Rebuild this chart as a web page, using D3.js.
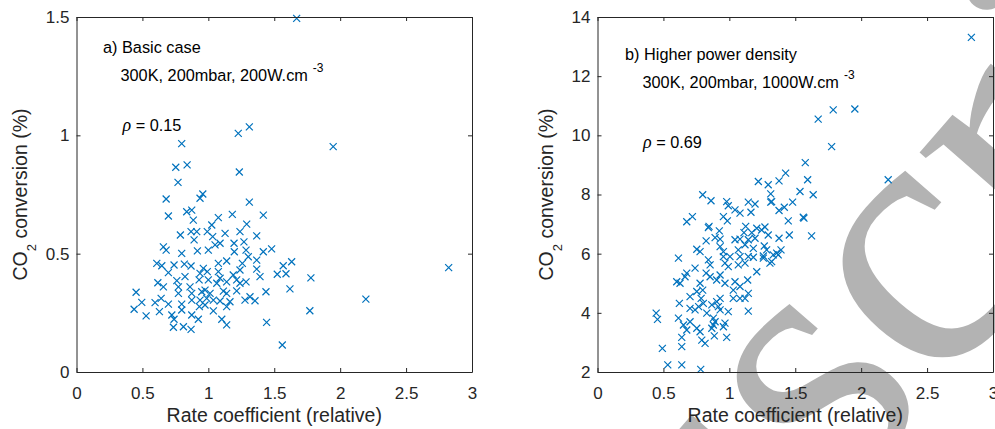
<!DOCTYPE html>
<html>
<head>
<meta charset="utf-8">
<script src="https://cdn.jsdelivr.net/npm/d3@7/dist/d3.min.js"></script>
<style>
  body { margin: 0; background: #fff; }
  svg { display: block; font-family: "Liberation Sans", Arial, Helvetica, sans-serif; }
</style>
</head>
<body>
<svg id="chart" width="995" height="429"></svg>
<script>
// panel a) basic case, 200 W/cm3
const rateA = [1.670, 1.227, 1.311, 0.798, 0.753, 0.839, 1.235, 0.770, 0.680, 0.958,
  0.937, 1.311, 0.697, 0.874, 0.836, 0.886, 1.076, 1.182, 1.417, 1.291,
  1.947, 0.788, 0.869, 0.912, 0.992, 1.033, 1.127, 1.240, 1.367, 0.892,
  1.089, 1.051, 1.195, 1.270, 0.659, 0.680, 0.798, 0.917, 1.000, 1.197,
  1.286, 1.303, 1.417, 1.480, 1.367, 1.139, 1.076, 0.609, 0.647, 0.740,
  0.818, 0.869, 0.697, 0.962, 0.992, 0.937, 1.076, 1.240, 1.258, 1.367,
  1.568, 1.632, 1.523, 1.589, 1.392, 1.778, 1.189, 0.823, 1.089, 0.930,
  0.617, 0.659, 0.761, 0.773, 0.861, 1.000, 1.064, 1.139, 1.215, 1.240,
  1.286, 0.975, 0.950, 1.013, 1.114, 1.139, 0.874, 0.773, 1.215, 1.437,
  1.619, 0.452, 0.642, 0.495, 0.596, 0.697, 0.798, 0.874, 0.937, 0.988,
  1.038, 1.089, 1.164, 1.278, 1.316, 1.354, 0.437, 0.629, 0.723, 0.798,
  0.932, 0.975, 1.038, 1.139, 0.528, 0.740, 0.874, 0.924, 1.102, 1.770,
  0.735, 0.811, 0.869, 1.139, 1.442, 1.561, 2.823, 2.195, 1.026];
const convA = [1.494, 1.008, 1.036, 0.965, 0.865, 0.875, 0.845, 0.801, 0.731, 0.752,
  0.734, 0.718, 0.659, 0.684, 0.677, 0.642, 0.652, 0.666, 0.663, 0.625,
  0.952, 0.579, 0.593, 0.593, 0.593, 0.572, 0.586, 0.593, 0.575, 0.558,
  0.544, 0.537, 0.544, 0.550, 0.529, 0.515, 0.501, 0.512, 0.515, 0.508,
  0.515, 0.487, 0.508, 0.520, 0.473, 0.469, 0.459, 0.459, 0.449, 0.452,
  0.456, 0.448, 0.420, 0.438, 0.424, 0.417, 0.424, 0.431, 0.459, 0.435,
  0.449, 0.466, 0.413, 0.415, 0.403, 0.398, 0.410, 0.403, 0.396, 0.389,
  0.377, 0.360, 0.386, 0.360, 0.360, 0.389, 0.375, 0.381, 0.389, 0.375,
  0.381, 0.346, 0.339, 0.332, 0.342, 0.332, 0.332, 0.332, 0.343, 0.339,
  0.351, 0.337, 0.311, 0.294, 0.293, 0.287, 0.287, 0.304, 0.304, 0.311,
  0.304, 0.300, 0.297, 0.304, 0.318, 0.301, 0.265, 0.255, 0.241, 0.262,
  0.276, 0.283, 0.258, 0.276, 0.237, 0.223, 0.241, 0.223, 0.223, 0.259,
  0.189, 0.191, 0.180, 0.199, 0.210, 0.114, 0.441, 0.308, 0.621];

// panel b) higher power density, 1000 W/cm3
const rateB = [2.836, 1.788, 1.952, 1.674, 1.776, 2.205, 1.576, 1.427, 1.377, 1.220,
  1.295, 1.594, 1.314, 1.536, 1.636, 1.144, 1.195, 1.314, 1.480, 1.417,
  1.377, 1.164, 1.561, 0.798, 0.861, 0.980, 0.992, 1.043, 1.081, 0.720,
  0.955, 1.447, 1.566, 1.624, 1.455, 1.377, 0.677, 0.985, 0.841, 0.924,
  0.824, 0.892, 0.930, 1.043, 1.081, 1.124, 1.111, 1.170, 1.208, 1.245,
  1.270, 1.295, 1.144, 1.195, 0.753, 0.930, 0.955, 1.068, 1.119, 1.182,
  1.265, 1.283, 1.392, 0.614, 1.005, 1.081, 1.182, 1.258, 1.333, 0.778,
  0.841, 0.854, 0.967, 0.992, 1.068, 1.119, 1.208, 1.308, 1.371, 0.740,
  0.677, 0.664, 0.601, 0.626, 0.824, 0.854, 0.778, 0.798, 0.904, 0.930,
  0.967, 1.043, 1.030, 1.081, 1.139, 1.030, 1.081, 1.119, 1.144, 0.702,
  0.621, 0.753, 0.786, 0.803, 0.867, 0.904, 0.930, 0.702, 0.740, 0.767,
  0.917, 0.930, 0.992, 1.144, 0.445, 0.455, 0.614, 0.829, 0.879, 0.892,
  0.967, 0.702, 0.652, 0.677, 0.753, 0.778, 0.879, 0.867, 0.955, 0.639,
  0.791, 0.816, 0.886, 0.980, 0.492, 0.639, 0.533, 0.639, 0.783, 0.846,
  1.359, 1.321, 1.258, 1.144, 0.955, 1.321];
const convB = [13.31, 10.86, 10.89, 10.55, 9.62, 8.50, 9.08, 8.72, 8.46, 8.44,
  8.33, 8.50, 8.02, 8.10, 7.99, 7.74, 7.68, 7.74, 7.74, 7.57,
  7.46, 7.40, 7.23, 7.99, 7.79, 7.76, 7.62, 7.48, 7.37, 7.25,
  7.25, 7.11, 7.20, 6.60, 6.63, 6.52, 7.08, 7.11, 6.88, 6.77,
  6.43, 6.54, 6.49, 6.47, 6.49, 6.92, 6.71, 6.71, 6.86, 6.80,
  6.90, 6.63, 6.47, 6.52, 6.15, 6.24, 6.07, 6.13, 6.30, 6.18,
  6.26, 6.13, 6.13, 5.85, 5.90, 5.90, 5.88, 5.92, 5.96, 6.07,
  5.79, 5.62, 5.68, 5.56, 5.62, 5.68, 5.39, 5.68, 5.96, 5.51,
  5.34, 5.22, 5.05, 5.00, 5.34, 5.22, 5.00, 4.77, 5.11, 5.28,
  5.00, 5.05, 4.77, 4.89, 5.11, 4.49, 4.49, 4.49, 4.66, 4.55,
  4.32, 4.72, 4.49, 4.32, 4.27, 4.38, 4.49, 4.15, 4.10, 4.21,
  4.21, 4.10, 4.04, 4.06, 3.99, 3.78, 3.82, 3.99, 3.82, 3.70,
  3.65, 3.70, 3.59, 3.42, 3.48, 3.36, 3.59, 3.48, 3.53, 3.17,
  3.08, 2.97, 3.22, 3.17, 2.80, 2.86, 2.24, 2.24, 2.09, 6.92,
  6.02, 5.73, 5.85, 5.90, 5.90, 7.76];

// axis ticks
const rateTicks = [0, 0.5, 1, 1.5, 2, 2.5, 3];
const convTicksA = [0, 0.5, 1, 1.5];
const convTicksB = [2, 4, 6, 8, 10, 12, 14];

// define panels
const panels = [
  {
    left: 76.5, right: 472, x: rateA, y: convA, yDomain: [0, 1.5], yTicks: convTicksA,
    title: "a) Basic case", power: "200", rho: "0.15",
    titlePos: [103, 53], condPos: [120.5, 81], rhoPos: [122.5, 131], labelX: 27
  },
  {
    left: 597.5, right: 993, x: rateB, y: convB, yDomain: [2, 14], yTicks: convTicksB,
    title: "b) Higher power density", power: "1000", rho: "0.69",
    titlePos: [625, 60], condPos: [642.5, 88], rhoPos: [643, 148], labelX: 553
  }
];

const plotTop = 17;
const plotBottom = 372;
const axisColor = "#262626";
const markColor = "#0072BD";
const svg = d3.select("#chart");

// grey watermark behind the plots
const mark = svg.append("g")
  .attr("transform", "translate(870,250) scale(1.1) translate(-870,-250) translate(757,345) rotate(9) scale(1.05) translate(-757,-345) translate(858,462) rotate(-58)");
const markText = mark.append("text")
  .attr("font-family", "'Liberation Serif', 'Times New Roman', serif")
  .attr("font-size", 324)
  .attr("fill", "#b3b3b3")
  .text("Manuscript");
markText.attr("x", -markText.node().getSubStringLength(0, 4));

panels.forEach(p => {
  const x = d3.scaleLinear().domain([0, 3]).range([p.left, p.right]);
  const y = d3.scaleLinear().domain(p.yDomain).range([plotBottom, plotTop]);
  const g = svg.append("g");

  // points
  g.append("g")
    .selectAll("path")
    .data(p.x.map((d, i) => [d, p.y[i]]))
    .enter()
    .append("path")
    .attr("transform", d => "translate(" + x(d[0]) + "," + y(d[1]) + ")")
    .attr("d", "M-3.5,-3.5L3.5,3.5M-3.5,3.5L3.5,-3.5")
    .attr("fill", "none")
    .attr("stroke", markColor)
    .attr("stroke-width", 1.2);

  // axes with inward ticks on all four sides
  const fmt = d => String(d);
  g.append("g")
    .attr("transform", "translate(0," + plotBottom + ")")
    .call(d3.axisBottom(x).tickValues(rateTicks).tickFormat(fmt).tickSizeInner(-4).tickSizeOuter(0).tickPadding(15));
  g.append("g")
    .attr("transform", "translate(0," + plotTop + ")")
    .call(d3.axisTop(x).tickValues(rateTicks).tickFormat("").tickSizeInner(-4).tickSizeOuter(0));
  g.append("g")
    .attr("transform", "translate(" + p.left + ",0)")
    .call(d3.axisLeft(y).tickValues(p.yTicks).tickFormat(fmt).tickSizeInner(-4).tickSizeOuter(0).tickPadding(7));
  g.append("g")
    .attr("transform", "translate(" + p.right + ",0)")
    .call(d3.axisRight(y).tickValues(p.yTicks).tickFormat("").tickSizeInner(-4).tickSizeOuter(0));
  g.selectAll(".domain, .tick line")
    .attr("stroke", axisColor)
    .attr("stroke-width", 1);
  g.selectAll(".tick text")
    .attr("fill", axisColor)
    .attr("font-family", null)
    .attr("font-size", 17);

  // axis labels
  g.append("text")
    .attr("x", (p.left + p.right) / 2)
    .attr("y", 422)
    .attr("text-anchor", "middle")
    .attr("font-size", 19.5)
    .attr("fill", axisColor)
    .text("Rate coefficient (relative)");
  const yl = g.append("text")
    .attr("transform", "translate(" + p.labelX + "," + ((plotTop + plotBottom) / 2) + ") rotate(-90)")
    .attr("text-anchor", "middle")
    .attr("font-size", 19.5)
    .attr("fill", axisColor);
  yl.append("tspan").text("CO");
  yl.append("tspan").attr("font-size", 13).attr("dy", 9).text("2");
  yl.append("tspan").attr("dy", -9).text(" conversion (%)");

  // annotations
  g.append("text")
    .attr("x", p.titlePos[0])
    .attr("y", p.titlePos[1])
    .attr("font-size", 16.3)
    .attr("fill", "#000")
    .text(p.title);
  const cond = g.append("text")
    .attr("x", p.condPos[0])
    .attr("y", p.condPos[1])
    .attr("font-size", 16.3)
    .attr("fill", "#000");
  cond.append("tspan").text("300K, 200mbar, " + p.power + "W.cm");
  cond.append("tspan").attr("font-size", 12).attr("dx", 5).attr("dy", -9).text("-3");
  const rho = g.append("text")
    .attr("x", p.rhoPos[0])
    .attr("y", p.rhoPos[1])
    .attr("font-size", 16.3)
    .attr("fill", "#000");
  rho.append("tspan")
    .attr("font-family", "'Liberation Serif', 'Times New Roman', serif")
    .attr("font-style", "italic")
    .attr("font-size", 18)
    .text("ρ");
  rho.append("tspan").text(" = " + p.rho);
});
</script>
</body>
</html>
